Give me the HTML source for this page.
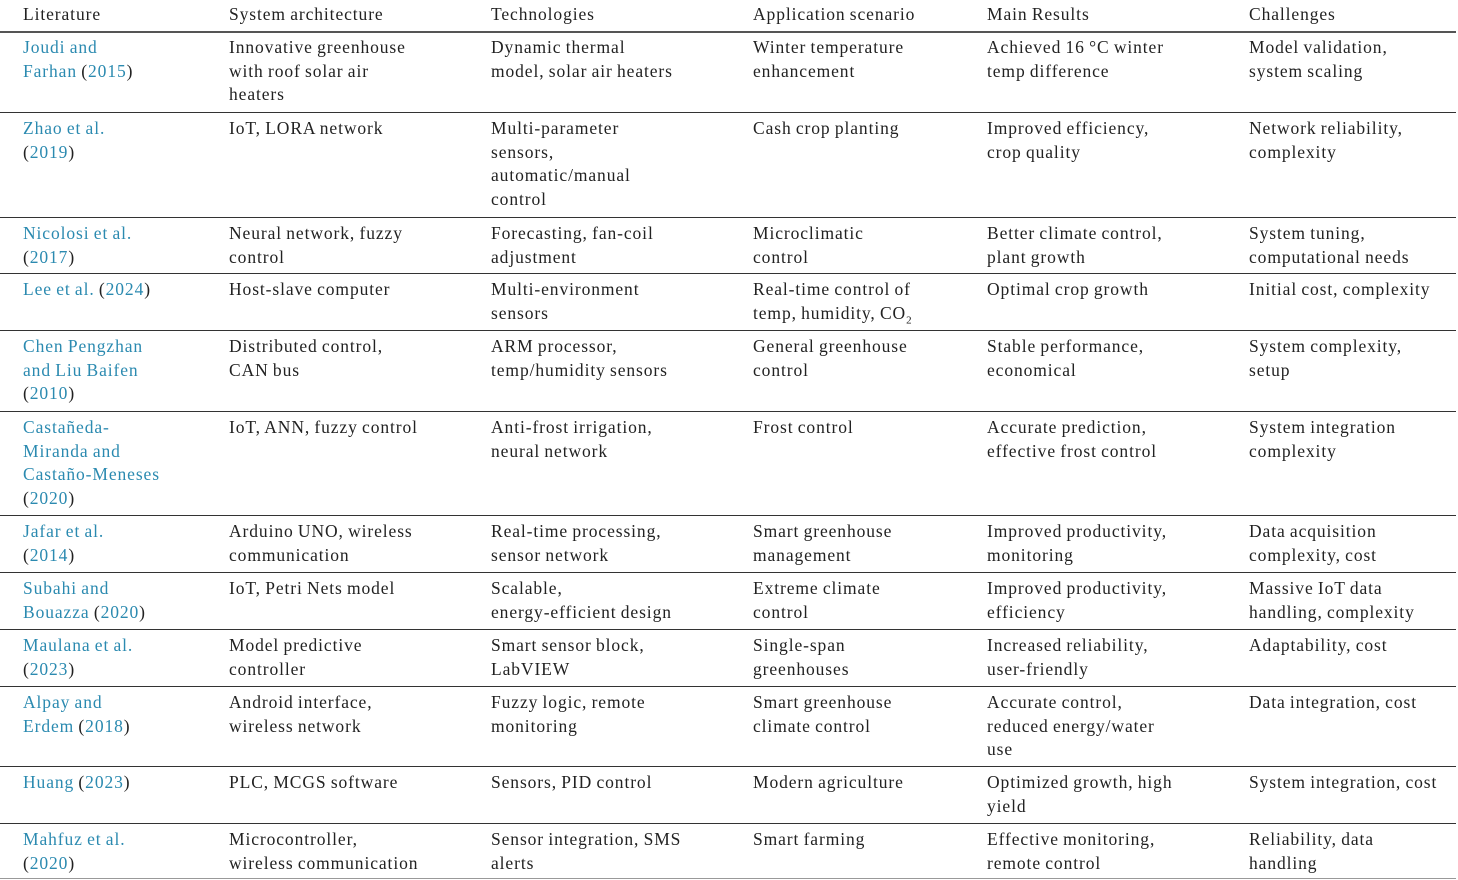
<!DOCTYPE html>
<html><head><meta charset="utf-8">
<style>
body{margin:0;background:#fff;width:1458px;height:880px;overflow:hidden;position:relative;font-family:"Liberation Serif",serif;font-size:17.5px;color:#222;letter-spacing:0.9px;word-spacing:-1px}
.row{position:absolute;left:0;width:1456px}
.line{position:absolute;left:0;width:1456px;height:1px;background:#333}
.c{position:absolute;top:4px;line-height:23.7px;white-space:nowrap}
.c0{left:23px}.c1{left:229px}.c2{left:491px}.c3{left:753px}.c4{left:987px}.c5{left:1249px}
.lk{color:#2b8ab0}
</style></head><body>
<div class="row" style="top:0">
<div class="c c0" style="top:3px">Literature</div>
<div class="c c1" style="top:3px">System architecture</div>
<div class="c c2" style="top:3px">Technologies</div>
<div class="c c3" style="top:3px">Application scenario</div>
<div class="c c4" style="top:3px">Main Results</div>
<div class="c c5" style="top:3px">Challenges</div>
</div>
<div class="line" style="top:31px;height:1.5px;background:#555"></div>

<div class="row" style="top:32px">
<div class="c c0"><span class="lk">Joudi and<br>Farhan</span> (<span class="lk">2015</span>)</div>
<div class="c c1">Innovative greenhouse<br>with roof solar air<br>heaters</div>
<div class="c c2">Dynamic thermal<br>model, solar air heaters</div>
<div class="c c3">Winter temperature<br>enhancement</div>
<div class="c c4">Achieved 16 °C winter<br>temp difference</div>
<div class="c c5">Model validation,<br>system scaling</div>
</div>
<div class="line" style="top:112px"></div>

<div class="row" style="top:113px">
<div class="c c0"><span class="lk">Zhao et al.</span><br>(<span class="lk">2019</span>)</div>
<div class="c c1">IoT, LORA network</div>
<div class="c c2">Multi-parameter<br>sensors,<br>automatic/manual<br>control</div>
<div class="c c3">Cash crop planting</div>
<div class="c c4">Improved efficiency,<br>crop quality</div>
<div class="c c5">Network reliability,<br>complexity</div>
</div>
<div class="line" style="top:217px"></div>

<div class="row" style="top:218px">
<div class="c c0"><span class="lk">Nicolosi et al.</span><br>(<span class="lk">2017</span>)</div>
<div class="c c1">Neural network, fuzzy<br>control</div>
<div class="c c2">Forecasting, fan-coil<br>adjustment</div>
<div class="c c3">Microclimatic<br>control</div>
<div class="c c4">Better climate control,<br>plant growth</div>
<div class="c c5">System tuning,<br>computational needs</div>
</div>
<div class="line" style="top:273px"></div>

<div class="row" style="top:274px">
<div class="c c0"><span class="lk">Lee et al.</span> (<span class="lk">2024</span>)</div>
<div class="c c1">Host-slave computer</div>
<div class="c c2">Multi-environment<br>sensors</div>
<div class="c c3">Real-time control of<br>temp, humidity, CO<sub style="font-size:11px">2</sub></div>
<div class="c c4">Optimal crop growth</div>
<div class="c c5">Initial cost, complexity</div>
</div>
<div class="line" style="top:330px"></div>

<div class="row" style="top:331px">
<div class="c c0"><span class="lk">Chen Pengzhan<br>and Liu Baifen</span><br>(<span class="lk">2010</span>)</div>
<div class="c c1">Distributed control,<br>CAN bus</div>
<div class="c c2">ARM processor,<br>temp/humidity sensors</div>
<div class="c c3">General greenhouse<br>control</div>
<div class="c c4">Stable performance,<br>economical</div>
<div class="c c5">System complexity,<br>setup</div>
</div>
<div class="line" style="top:411px"></div>

<div class="row" style="top:412px">
<div class="c c0"><span class="lk">Castañeda-<br>Miranda and<br>Castaño-Meneses</span><br>(<span class="lk">2020</span>)</div>
<div class="c c1">IoT, ANN, fuzzy control</div>
<div class="c c2">Anti-frost irrigation,<br>neural network</div>
<div class="c c3">Frost control</div>
<div class="c c4">Accurate prediction,<br>effective frost control</div>
<div class="c c5">System integration<br>complexity</div>
</div>
<div class="line" style="top:515px"></div>

<div class="row" style="top:516px">
<div class="c c0"><span class="lk">Jafar et al.</span><br>(<span class="lk">2014</span>)</div>
<div class="c c1">Arduino UNO, wireless<br>communication</div>
<div class="c c2">Real-time processing,<br>sensor network</div>
<div class="c c3">Smart greenhouse<br>management</div>
<div class="c c4">Improved productivity,<br>monitoring</div>
<div class="c c5">Data acquisition<br>complexity, cost</div>
</div>
<div class="line" style="top:572px"></div>

<div class="row" style="top:573px">
<div class="c c0"><span class="lk">Subahi and<br>Bouazza</span> (<span class="lk">2020</span>)</div>
<div class="c c1">IoT, Petri Nets model</div>
<div class="c c2">Scalable,<br>energy-efficient design</div>
<div class="c c3">Extreme climate<br>control</div>
<div class="c c4">Improved productivity,<br>efficiency</div>
<div class="c c5">Massive IoT data<br>handling, complexity</div>
</div>
<div class="line" style="top:629px"></div>

<div class="row" style="top:630px">
<div class="c c0"><span class="lk">Maulana et al.</span><br>(<span class="lk">2023</span>)</div>
<div class="c c1">Model predictive<br>controller</div>
<div class="c c2">Smart sensor block,<br>LabVIEW</div>
<div class="c c3">Single-span<br>greenhouses</div>
<div class="c c4">Increased reliability,<br>user-friendly</div>
<div class="c c5">Adaptability, cost</div>
</div>
<div class="line" style="top:686px"></div>

<div class="row" style="top:687px">
<div class="c c0"><span class="lk">Alpay and<br>Erdem</span> (<span class="lk">2018</span>)</div>
<div class="c c1">Android interface,<br>wireless network</div>
<div class="c c2">Fuzzy logic, remote<br>monitoring</div>
<div class="c c3">Smart greenhouse<br>climate control</div>
<div class="c c4">Accurate control,<br>reduced energy/water<br>use</div>
<div class="c c5">Data integration, cost</div>
</div>
<div class="line" style="top:766px"></div>

<div class="row" style="top:767px">
<div class="c c0"><span class="lk">Huang</span> (<span class="lk">2023</span>)</div>
<div class="c c1">PLC, MCGS software</div>
<div class="c c2">Sensors, PID control</div>
<div class="c c3">Modern agriculture</div>
<div class="c c4">Optimized growth, high<br>yield</div>
<div class="c c5">System integration, cost</div>
</div>
<div class="line" style="top:823px"></div>

<div class="row" style="top:824px">
<div class="c c0"><span class="lk">Mahfuz et al.</span><br>(<span class="lk">2020</span>)</div>
<div class="c c1">Microcontroller,<br>wireless communication</div>
<div class="c c2">Sensor integration, SMS<br>alerts</div>
<div class="c c3">Smart farming</div>
<div class="c c4">Effective monitoring,<br>remote control</div>
<div class="c c5">Reliability, data<br>handling</div>
</div>
<div class="line" style="top:878px;background:#999"></div>
</body></html>
